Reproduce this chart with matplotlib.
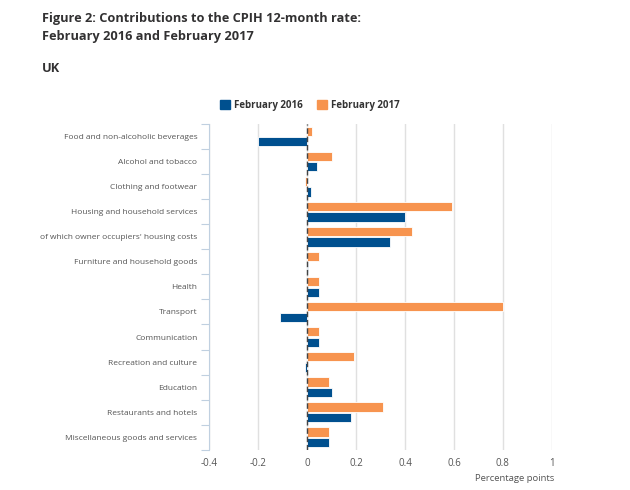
import numpy as np
import matplotlib.pyplot as plt

plt.rcParams['font.family'] = ['Open Sans', 'DejaVu Sans']

categories = ['Food and non-alcoholic beverages', 'Alcohol and tobacco',
              'Clothing and footwear', 'Housing and household services',
              "of which owner occupiers' housing costs",
              'Furniture and household goods', 'Health', 'Transport',
              'Communication', 'Recreation and culture', 'Education',
              'Restaurants and hotels', 'Miscellaneous goods and services']
feb2016 = [-0.20, 0.04, 0.015, 0.40, 0.34, 0.005, 0.05, -0.11, 0.05, -0.01, 0.10, 0.18, 0.09]
feb2017 = [0.02, 0.10, -0.01, 0.59, 0.43, 0.05, 0.05, 0.80, 0.05, 0.19, 0.09, 0.31, 0.09]
xticks = [-0.4, -0.2, 0, 0.2, 0.4, 0.6, 0.8, 1]
xticklabels = ['-0.4', '-0.2', '0', '0.2', '0.4', '0.6', '0.8', '1']

blue = '#00508f'
orange = '#f7944f'
grey = '#555555'

fig = plt.figure(figsize=(6.3, 4.9), dpi=100)
ax = fig.add_axes([0.332, 0.082, 0.544, 0.665])

y = np.arange(len(categories))
h = 0.37
ax.barh(y - 0.21, feb2017, height=h, color=orange, edgecolor='white', linewidth=0.6, zorder=3)
ax.barh(y + 0.21, feb2016, height=h, color=blue, edgecolor='white', linewidth=0.6, zorder=3)

ax.set_ylim(len(categories) - 0.5, -0.5)
ax.set_xlim(-0.4, 1.0)
ax.set_yticks(y)
ax.set_yticklabels(categories, fontsize=6.0, color=grey)
ax.set_yticks(np.arange(-0.5, len(categories)), minor=True)
ax.tick_params(axis='y', which='major', length=0, pad=8.5)
ax.tick_params(axis='y', which='minor', length=6, color='#c0d0e0', width=0.8)
ax.set_xticks(xticks)
ax.set_xticklabels(xticklabels, fontsize=7, color=grey)
ax.tick_params(axis='x', length=0, pad=6)
ax.grid(axis='x', color='#e0e0e0', linewidth=1, zorder=0)
ax.axvline(0, color='#444444', linewidth=1, linestyle=(0, (4, 2)), zorder=4)

for s in ['top', 'right', 'bottom']:
    ax.spines[s].set_visible(False)
ax.spines['left'].set_color('#c0d0e0')

ax.set_xlabel('Percentage points', fontsize=6.8, color=grey)
ax.xaxis.set_label_coords(0.89, -0.075)

fig.text(0.067, 0.955, 'Figure 2: Contributions to the CPIH 12-month rate:',
         fontsize=9.2, fontweight='bold', color='#323132')
fig.text(0.067, 0.918, 'February 2016 and February 2017',
         fontsize=9.2, fontweight='bold', color='#323132')
fig.text(0.067, 0.853, 'UK', fontsize=9.2, fontweight='bold', color='#323132')

leg = fig.legend(handles=[plt.Rectangle((0, 0), 1, 1, color=blue),
                          plt.Rectangle((0, 0), 1, 1, color=orange)],
                 labels=['February 2016', 'February 2017'],
                 loc='center left', bbox_to_anchor=(0.335, 0.785), ncol=2,
                 frameon=False, fontsize=7.0, handlelength=1.1, handleheight=1.1,
                 columnspacing=1.4, handletextpad=0.4)
for t in leg.get_texts():
    t.set_fontweight('bold')
    t.set_color('#333333')

fig.savefig('out.png', dpi=100)
